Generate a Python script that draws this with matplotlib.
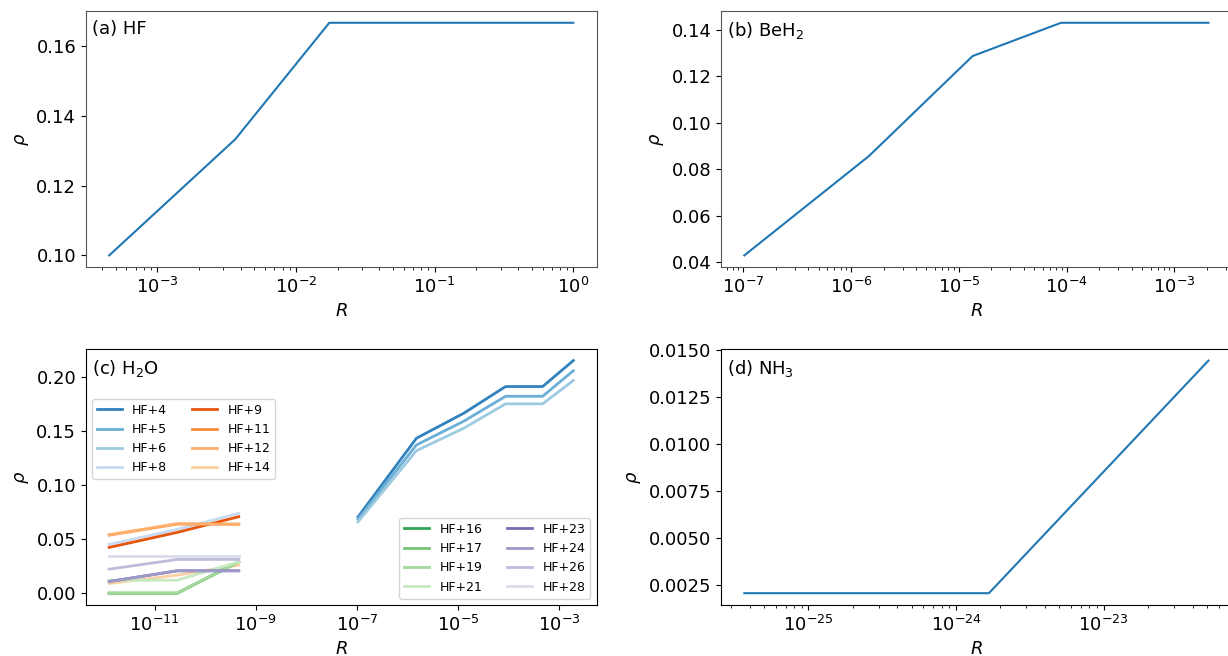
import matplotlib
matplotlib.use('Agg')
import matplotlib.pyplot as plt
from matplotlib.ticker import MultipleLocator

# (a) HF
r_hf = [4.5e-4, 3.65e-3, 1.74e-2, 1.0]
rho_hf = [0.1000, 0.1333, 0.1667, 0.1667]

# (b) BeH2
r_beh2 = [1.02e-7, 1.47e-6, 1.34e-5, 8.86e-5, 2.07e-3]
rho_beh2 = [0.0429, 0.0857, 0.1286, 0.1429, 0.1429]

# (d) NH3
r_nh3 = [3.68e-26, 1.67e-24, 5.13e-23]
rho_nh3 = [0.00204, 0.00204, 0.01443]

# (c) H2O
r_h2o_low = [1.26e-12, 2.8e-11, 4.6e-10]
r_h2o_high = [1.05e-7, 1.5e-6, 1.3e-5, 8.7e-5, 4.7e-4, 1.9e-3]

h2o_high = {
    'HF+4': [0.0705, 0.1432, 0.1664, 0.1910, 0.1910, 0.2150],
    'HF+5': [0.0685, 0.1370, 0.1590, 0.1820, 0.1820, 0.2056],
    'HF+6': [0.0660, 0.1317, 0.1525, 0.1750, 0.1750, 0.1966],
}
h2o_low = {
    'HF+8': [0.0451, 0.0590, 0.0738],
    'HF+9': [0.0423, 0.0562, 0.0707],
    'HF+11': [0.0537, 0.0639, 0.0639],
    'HF+12': [0.0540, 0.0642, 0.0636],
    'HF+14': [0.0090, 0.0167, 0.0259],
    'HF+16': [0.0000, 0.0000, 0.0290],
    'HF+17': [0.0000, 0.0000, 0.0290],
    'HF+19': [0.0000, 0.0000, 0.0290],
    'HF+21': [0.0120, 0.0120, 0.0290],
    'HF+23': [0.0108, 0.0207, 0.0207],
    'HF+24': [0.0108, 0.0207, 0.0207],
    'HF+26': [0.0222, 0.0312, 0.0312],
    'HF+28': [0.0346, 0.0346, 0.0346],
}
order_c = ['HF+4', 'HF+5', 'HF+6', 'HF+8', 'HF+9', 'HF+11', 'HF+12', 'HF+14',
           'HF+16', 'HF+17', 'HF+19', 'HF+21', 'HF+23', 'HF+24', 'HF+26', 'HF+28']

plt.rcParams['font.size'] = 13

fig, axs = plt.subplots(2, 2, figsize=(12.28, 6.56), dpi=100)
fig.subplots_adjust(left=0.070, right=1.003, top=0.983, bottom=0.078,
                    wspace=0.244, hspace=0.32)

def estilo(ax, etiqueta, gris=False):
    ax.set_xscale('log')
    ax.set_xlabel('$R$')
    ax.set_ylabel(r'$\rho$')
    ax.text(0.012, 0.965, etiqueta, transform=ax.transAxes, va='top', ha='left')
    if gris:
        for s in ax.spines.values():
            s.set_color('#555555')

ax = axs[0, 0]
ax.plot(r_hf, rho_hf, color='#1f77b4')
estilo(ax, '(a) HF', gris=True)

ax = axs[0, 1]
ax.plot(r_beh2, rho_beh2, color='#1f77b4')
estilo(ax, '(b) BeH$_2$', gris=True)

ax = axs[1, 1]
ax.plot(r_nh3, rho_nh3, color='#1f77b4')
ax.yaxis.set_major_locator(MultipleLocator(0.0025))
estilo(ax, '(d) NH$_3$')

ax = axs[1, 0]
colores = plt.cm.tab20c.colors
lineas = {}
for i, nombre in enumerate(order_c):
    if nombre in h2o_high:
        xs, ys = r_h2o_high, h2o_high[nombre]
    else:
        xs, ys = r_h2o_low, h2o_low[nombre]
    (ln,) = ax.plot(xs, ys, color=colores[i], lw=2, label=nombre)
    lineas[nombre] = ln
estilo(ax, '(c) H$_2$O')

h1 = [lineas[n] for n in order_c[:8]]
h2 = [lineas[n] for n in order_c[8:]]
leg1 = ax.legend(h1, order_c[:8], ncol=2, fontsize=9, loc='upper left',
                 bbox_to_anchor=(0, 0.83))
ax.add_artist(leg1)
ax.legend(h2, order_c[8:], ncol=2, fontsize=9, loc='lower right')

plt.savefig('out.png', dpi=100)
plt.close()
